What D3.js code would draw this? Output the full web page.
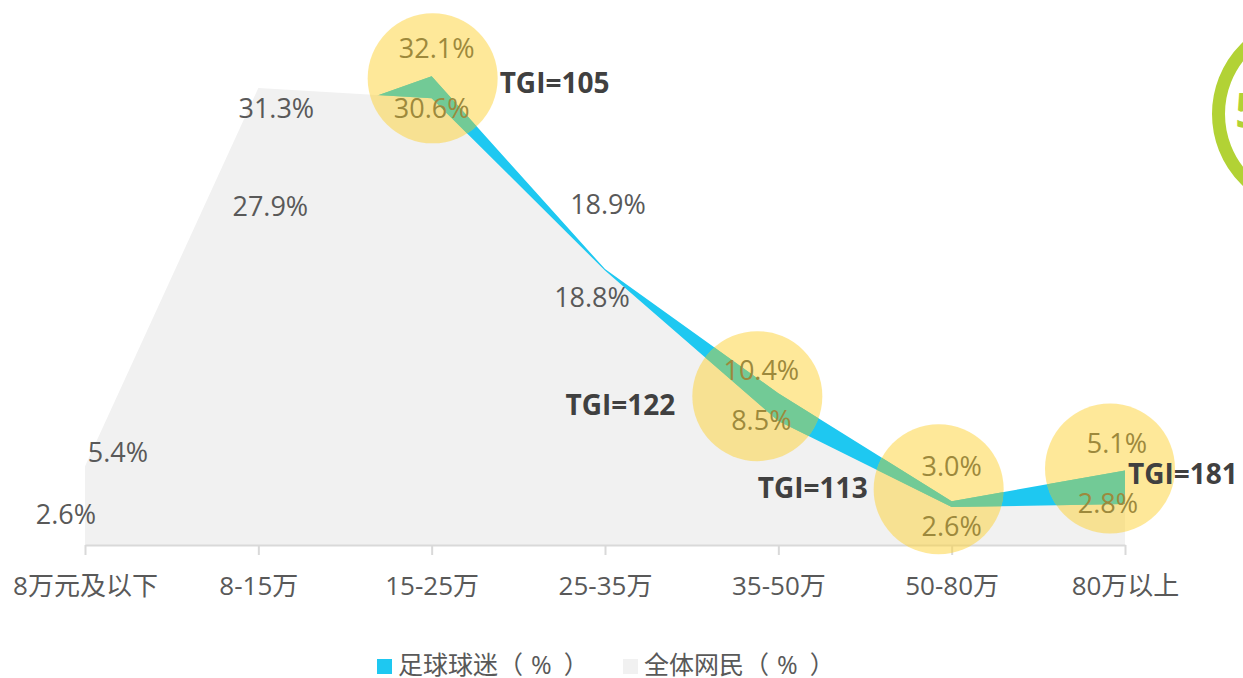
<!DOCTYPE html>
<html>
<head>
<meta charset="utf-8">
<script src="https://cdn.jsdelivr.net/npm/d3@7"></script>
<style>
  body { margin: 0; background: #fff; }
  svg { display: block; font-family: "Open Sans", "Noto Sans CJK SC", sans-serif; }
</style>
</head>
<body>
<div id="chart"></div>
<script>
// data
const categories = ["8万元及以下", "8-15万", "15-25万", "25-35万", "35-50万", "50-80万", "80万以上"]
const fansPct = [2.6, 27.9, 32.1, 18.9, 10.4, 3.0, 5.1]
const allPct = [5.4, 31.3, 30.6, 18.8, 8.5, 2.6, 2.8]
const tgiCats = ["15-25万", "35-50万", "50-80万", "80万以上"]
const tgiValues = [105, 122, 113, 181]
const seriesNames = ["足球球迷", "全体网民"]
const seriesUnit = ["（", "%", "）"]

// label placement (offsets from the data point), kept apart from the data
const fansLabelOff = [[-19, 17], [12, 78], [5, -18], [3, -55], [-17, -13], [0, -25], [-8, -18]]
const allLabelOff = [[33, -4], [18, 30], [0, 20], [-13, 36], [-17, 9], [0, 29], [-17, 9]]
const circleOff = [[1, 2], [-21, 3], [-13, -12], [-15, -2]]
const tgiLabelOff = [["start", 68, 17], ["end", -103, 22], ["end", -84, -3], ["start", 3, 13]]

let W = 1243, H = 678
let BLUE = "#1ec8f1", GREY = "#f1f1f1", GREEN = "#72ca96"
let TEXT = "#595959", OLIVE = "#9d893c"
let R = 65

let svg = d3.select("#chart").append("svg")
    .attr("width", W)
    .attr("height", H)

let x = d3.scalePoint()
    .domain(categories)
    .range([85, 1125])

let y = d3.scaleLinear()
    .domain([0, 35])
    .range([545, 34])

let rows = categories.map((c, i) => ({cat: c, fans: fansPct[i], all: allPct[i]}))

let fansArea = d3.area()
    .x(d => x(d.cat))
    .y0(y(0))
    .y1(d => y(d.fans))
let allArea = d3.area()
    .x(d => x(d.cat))
    .y0(y(0))
    .y1(d => y(d.all))

// highlight circles
let circles = tgiCats.map((c, i) => {
    let k = categories.indexOf(c)
    return {
        cat: c,
        tgi: tgiValues[i],
        cx: x(c) + circleOff[i][0],
        cy: y(fansPct[k]) + circleOff[i][1],
        k: k,
        i: i
    }
})

// mask: visible blue part inside the circles
let defs = svg.append("defs")
let mask = defs.append("mask").attr("id", "hl")
mask.append("rect").attr("width", W).attr("height", H).attr("fill", "black")
mask.selectAll("circle").data(circles).enter().append("circle")
    .attr("cx", d => d.cx).attr("cy", d => d.cy).attr("r", R)
    .attr("fill", "white")
mask.append("path").datum(rows).attr("d", allArea).attr("fill", "black")

// areas
svg.append("path").datum(rows)
    .attr("d", fansArea)
    .attr("fill", BLUE)
svg.append("path").datum(rows)
    .attr("d", allArea)
    .attr("fill", GREY)

// x axis
let xAxis = svg.append("g")
    .attr("transform", `translate(0, ${y(0)})`)
    .call(d3.axisBottom(x).tickSize(10).tickSizeOuter(0))
xAxis.select(".domain").attr("stroke", "#d9d9d9").attr("stroke-width", 2)
xAxis.selectAll(".tick line").attr("stroke", "#d9d9d9").attr("stroke-width", 2)
xAxis.selectAll(".tick text")
    .attr("y", 50)
    .attr("dy", 0)
    .attr("fill", TEXT)
    .style("font-size", "26px")
    .style("font-family", "'Open Sans', 'Noto Sans CJK SC', sans-serif")

// circles
svg.selectAll("circle.hl").data(circles).enter().append("circle")
    .attr("class", "hl")
    .attr("cx", d => d.cx)
    .attr("cy", d => d.cy)
    .attr("r", R)
    .attr("fill", "rgba(253,209,51,0.5)")

svg.append("path").datum(rows)
    .attr("d", fansArea)
    .attr("fill", GREEN)
    .attr("mask", "url(#hl)")

// value labels
function inCircle(px, py) {
    return circles.some(c => Math.hypot(px - c.cx, py - c.cy) < R)
}
let labels = []
rows.forEach((d, i) => {
    labels.push({v: d.fans, x: x(d.cat) + fansLabelOff[i][0], y: y(d.fans) + fansLabelOff[i][1]})
    labels.push({v: d.all, x: x(d.cat) + allLabelOff[i][0], y: y(d.all) + allLabelOff[i][1]})
})
svg.selectAll("text.val").data(labels).enter().append("text")
    .attr("class", "val")
    .attr("x", d => d.x)
    .attr("y", d => d.y)
    .attr("text-anchor", "middle")
    .attr("font-size", "27px")
    .attr("fill", d => inCircle(d.x, d.y - 10) ? OLIVE : TEXT)
    .text(d => d.v.toFixed(1) + "%")

// TGI labels
svg.selectAll("text.tgi").data(circles).enter().append("text")
    .attr("class", "tgi")
    .attr("x", d => x(d.cat) + tgiLabelOff[d.i][1])
    .attr("y", d => y(fansPct[d.k]) + tgiLabelOff[d.i][2])
    .attr("text-anchor", d => tgiLabelOff[d.i][0])
    .attr("font-size", "28px")
    .attr("font-weight", "bold")
    .attr("fill", "#404040")
    .text(d => "TGI=" + d.tgi)

// legend
let legend = svg.append("g")
let legendX = [377, 623]
let legendColors = [BLUE, GREY]
let unitDx = [0, 8, 12]
seriesNames.forEach((name, i) => {
    legend.append("rect")
        .attr("x", legendX[i]).attr("y", 659)
        .attr("width", 15).attr("height", 15)
        .attr("fill", legendColors[i])
    let t = legend.append("text")
        .attr("x", legendX[i] + 21).attr("y", 674)
        .attr("font-size", "25px")
        .attr("fill", TEXT)
    t.append("tspan").text(name)
    seriesUnit.forEach((u, j) => {
        t.append("tspan").attr("dx", unitDx[j]).text(u)
    })
})

// cropped logo at the right edge
svg.append("circle")
    .attr("cx", 1311).attr("cy", 114).attr("r", 92.5)
    .attr("fill", "none")
    .attr("stroke", "#b2d235")
    .attr("stroke-width", 13)
svg.append("text")
    .attr("x", 1235).attr("y", 128)
    .attr("font-size", "48px")
    .attr("font-weight", "bold")
    .attr("fill", "#b2d235")
    .text("5")
</script>
</body>
</html>
